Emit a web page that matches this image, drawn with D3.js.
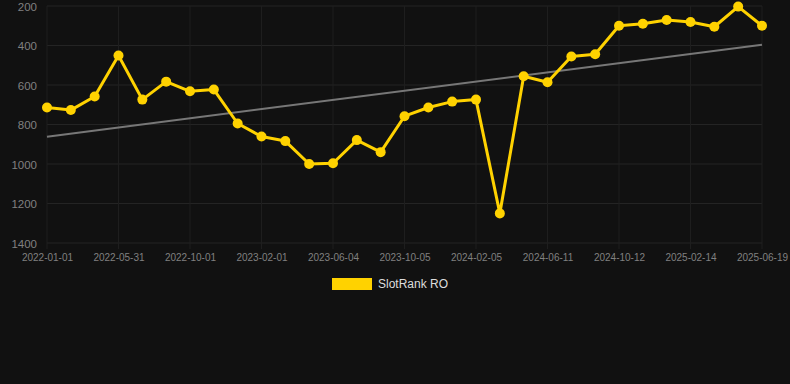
<!DOCTYPE html>
<html>
<head>
<meta charset="utf-8">
<script src="https://cdn.jsdelivr.net/npm/d3@7"></script>
<style>
    html, body { margin: 0; padding: 0; background: #111111; }
    svg { display: block; font-family: "Liberation Sans", Arial, sans-serif; }
</style>
</head>
<body>
<div id="chart"></div>
<script>
// Dates for every point (only every third one is shown on the axis)
const dates = [
    '2022-01-01', '2022-02-20', '2022-04-10', '2022-05-31', '2022-07-11', '2022-08-21',
    '2022-10-01', '2022-11-11', '2022-12-22', '2023-02-01', '2023-03-14', '2023-04-24',
    '2023-06-04', '2023-07-15', '2023-08-25', '2023-10-05', '2023-11-15', '2023-12-26',
    '2024-02-05', '2024-03-17', '2024-04-30', '2024-06-11', '2024-07-22', '2024-09-01',
    '2024-10-12', '2024-11-22', '2025-01-03', '2025-02-14', '2025-03-28', '2025-05-08',
    '2025-06-19'
];

const rankValues = [
    714, 727, 658, 451, 674, 583, 632, 623, 795, 861, 884, 1000,
    996, 879, 940, 758, 714, 684, 674, 1250, 556, 586, 456, 444,
    300, 290, 271, 281, 305, 203, 300
];

const trendValues = [862, 396];   // first and last point of the trend line
const yTicks = [200, 400, 600, 800, 1000, 1200, 1400];
const seriesName = 'SlotRank RO';

const svgWidth = 790;
const svgHeight = 384;

const margin = { top: 6, left: 47, right: 28, bottom: 141 };
const width = svgWidth - margin.left - margin.right;
const height = svgHeight - margin.top - margin.bottom;

const yellow = '#ffd200';

const svg = d3.select('#chart').append('svg')
    .attr('width', svgWidth)
    .attr('height', svgHeight);

svg.append('rect')
    .attr('width', svgWidth)
    .attr('height', svgHeight)
    .attr('fill', '#111111');

const chart = svg.append('g')
    .attr('transform', `translate(${margin.left},${margin.top})`);

const x = d3.scalePoint()
    .domain(dates)
    .range([0, width]);

const y = d3.scaleLinear()
    .domain([200, 1400])
    .range([0, height]);

// Grid
const tickDates = dates.filter((d, i) => i % 3 === 0);

chart.append('g')
    .selectAll('line')
    .data(yTicks)
    .enter()
    .append('line')
    .attr('x1', 0)
    .attr('x2', width)
    .attr('y1', d => y(d))
    .attr('y2', d => y(d))
    .attr('stroke', '#242424')
    .attr('stroke-width', 1);

chart.append('g')
    .selectAll('line')
    .data(tickDates)
    .enter()
    .append('line')
    .attr('x1', d => x(d))
    .attr('x2', d => x(d))
    .attr('y1', 0)
    .attr('y2', height + 6)
    .attr('stroke', '#1e1e1e')
    .attr('stroke-width', 1);

// Axes
const yAxis = chart.append('g')
    .call(d3.axisLeft(y).tickValues(yTicks).tickFormat(d3.format('d')).tickSize(0).tickPadding(10));

const xAxis = chart.append('g')
    .attr('transform', `translate(0,${height})`)
    .call(d3.axisBottom(x).tickValues(tickDates).tickSize(0).tickPadding(11));

[yAxis, xAxis].forEach(a => {
    a.select('.domain').remove();
    a.selectAll('text').attr('fill', '#808080').style('font-family', '"Liberation Sans", Arial, sans-serif');
});
yAxis.selectAll('text').style('font-size', '11.5px').attr('dy', '0.35em');
xAxis.selectAll('text').style('font-size', '10px');

// Trend line
chart.append('line')
    .attr('x1', x(dates[0]))
    .attr('x2', x(dates[dates.length - 1]))
    .attr('y1', y(trendValues[0]))
    .attr('y2', y(trendValues[1]))
    .attr('stroke', '#777777')
    .attr('stroke-width', 2);

// Series
const line = d3.line()
    .x((d, i) => x(dates[i]))
    .y(d => y(d));

chart.append('path')
    .datum(rankValues)
    .attr('d', line)
    .attr('fill', 'none')
    .attr('stroke', yellow)
    .attr('stroke-width', 3)
    .attr('stroke-linejoin', 'round');

chart.selectAll('circle')
    .data(rankValues)
    .enter()
    .append('circle')
    .attr('cx', (d, i) => x(dates[i]))
    .attr('cy', d => y(d))
    .attr('r', 5)
    .attr('fill', yellow);

// Legend
const legend = svg.append('g')
    .attr('transform', 'translate(332,278)');

legend.append('rect')
    .attr('width', 40)
    .attr('height', 12)
    .attr('fill', yellow);

legend.append('text')
    .attr('x', 46)
    .attr('y', 6)
    .attr('dy', '0.35em')
    .attr('fill', '#dddddd')
    .style('font-size', '12px')
    .text(seriesName);
</script>
</body>
</html>
